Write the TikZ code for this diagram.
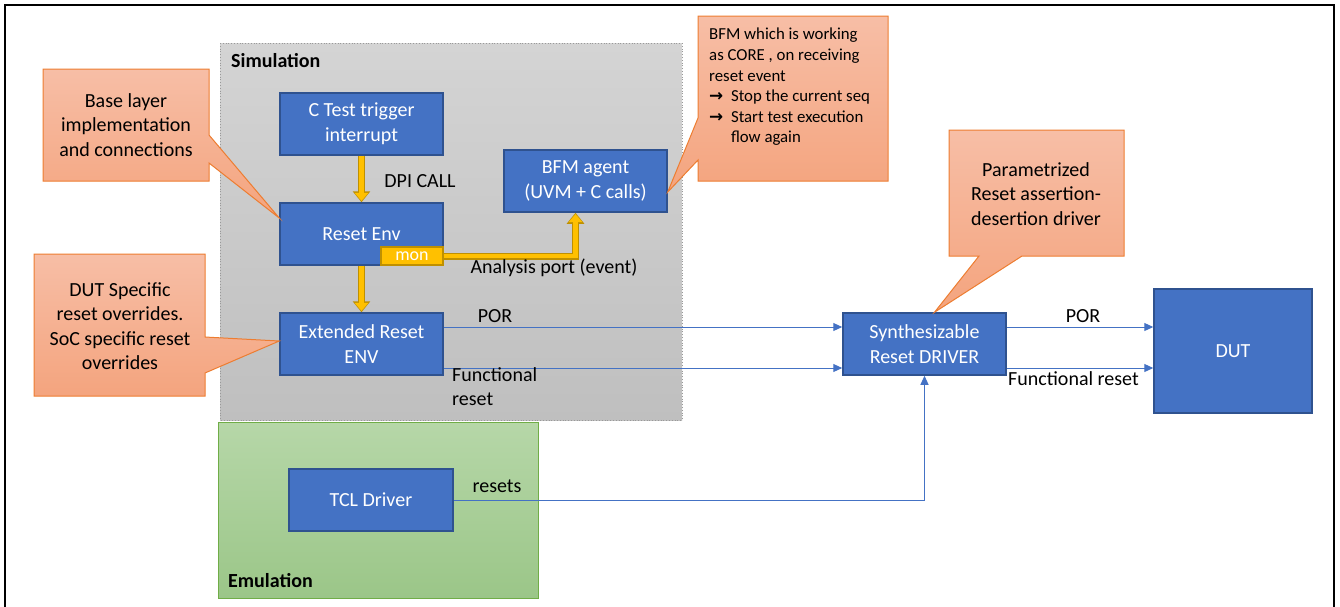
\documentclass[tikz,border=0pt]{standalone}
\usepackage{fontspec}
\setmainfont{Carlito}
\newfontfamily\dejavu{DejaVu Sans}
\usetikzlibrary{arrows.meta,calc}
\definecolor{blu}{HTML}{4472C4}
\definecolor{bluD}{HTML}{2F528F}
\definecolor{yel}{HTML}{FFC000}
\definecolor{yelD}{HTML}{BF9000}
\definecolor{salT}{HTML}{F7BEA6}
\definecolor{salB}{HTML}{F4A47E}
\definecolor{salD}{HTML}{ED7D31}
\definecolor{simT}{HTML}{D4D4D4}
\definecolor{simB}{HTML}{BFBFBF}
\definecolor{emuT}{HTML}{B6D7A8}
\definecolor{emuB}{HTML}{9BC688}
\definecolor{emuD}{HTML}{70AD47}
\begin{document}
\begin{tikzpicture}[x=1pt,y=-1pt,
  blk/.style={draw=bluD, line width=1.5pt, fill=blu, text=white, align=center,
    font=\fontsize{20}{25}\selectfont, minimum width=163pt, minimum height=62pt, inner sep=0pt},
  lbl/.style={font=\fontsize{20}{24}\selectfont, text=black, inner sep=0pt},
  callout/.style={draw=salD, line width=1pt, top color=salT, bottom color=salB},
  ctext/.style={font=\fontsize{20}{24.5}\selectfont, align=center, inner sep=0pt},
  youter/.style={draw=yelD, line width=7pt, -{Triangle[width=17pt,length=11pt]}},
  yarrow/.style={draw=yel, line width=4.5pt, -{Triangle[width=13pt,length=8pt]}, shorten >=1.3pt},
  barrow/.style={draw=blu, line width=1pt, -{Triangle[width=8pt,length=9pt]}},
  title/.style={font=\fontsize{20}{22}\selectfont\bfseries, anchor=west, inner sep=0pt}
]
\useasboundingbox (0,0) rectangle (1340,606);
% outer frame
\draw[line width=1.5pt] (5,612) -- (5,5) -- (1334,5) -- (1334,612);
% regions
\path[draw=gray!80, dotted, line width=0.8pt, top color=simT, bottom color=simB] (220,43) rectangle (682,420);
\node[title] (simt) at (231,61) {Simulation};
\path[draw=emuD, line width=0.8pt, top color=emuT, bottom color=emuB] (218,422) rectangle (538,598);
\node[title] (emut) at (228,581) {Emulation};

% blocks
\node[blk] (ctest) at (361.5,124) {C Test trigger\\interrupt};
\node[blk] (renv) at (361.5,234) {Reset Env};
\node[blk] (ext) at (361.5,344) {Extended Reset\\ENV};
\node[blk] (bfm) at (585.5,181) {BFM agent\\(UVM + C calls)};
\node[blk] (syn) at (924.5,344) {Synthesizable\\Reset DRIVER};
\node[blk, minimum width=158pt, minimum height=124pt] (dut) at (1233,351) {DUT};
\node[blk, minimum width=164pt] (tcl) at (371,500) {TCL Driver};
\node[draw=yelD, fill=yel, line width=1.5pt, text=white, minimum width=62pt, minimum height=18pt,
  inner sep=0pt, font=\fontsize{18}{18}\selectfont, anchor=south east] (mon) at (renv.south east) {mon};

% callouts
\path[callout] (43,69) -- (209,69) -- (209,135) -- ([yshift=16pt]renv.west) -- (209,163) -- (209,181) -- (43,181) -- cycle;
\node[ctext] (c1) at (126,125) {Base layer\\implementation\\and connections};
\path[callout] (34,254) -- (205,254) -- (205,337) -- ([yshift=3pt]ext.west) -- (205,373) -- (205,396) -- (34,396) -- cycle;
\node[ctext] (c2) at (120,326) {DUT Specific\\reset overrides.\\SoC specific reset\\overrides};
\path[callout] (698,16) -- (888,16) -- (888,181) -- (698,181) -- (698,160) -- ([yshift=-11pt]bfm.east) -- (698,118) -- cycle;
\node[font=\fontsize{16.8}{20.6}\selectfont, align=left, anchor=north west, inner sep=0pt] (c3) at (709,28)
  {BFM which is working\\as CORE , on receiving\\reset event\\
   \makebox[1.3em][l]{\dejavu\bfseries →}Stop the current seq\\
   \makebox[1.3em][l]{\dejavu\bfseries →}Start test execution\\
   \hspace*{1.3em}flow again};
\path[callout] (949,130) -- (1124,130) -- (1124,256) -- (1022,256) -- ([xshift=10pt]syn.north) -- (979,256) -- (949,256) -- cycle;
\node[ctext] (c4) at (1036,194) {Parametrized\\Reset assertion-\\desertion driver};

% yellow arrows (outline, then fill)
\draw[youter] (ctest.south) -- (renv.north);
\draw[youter] (renv.south) -- (ext.north);
\draw[youter] (mon.east) -| ([xshift=-10pt]bfm.south);
\draw[yarrow] (ctest.south) -- (renv.north);
\draw[yarrow] (renv.south) -- (ext.north);
\draw[yarrow] (mon.east) -| ([xshift=-10pt]bfm.south);

% blue connectors
\draw[barrow] ([yshift=17pt]ext.east) -- ([yshift=17pt]syn.west);
\draw[barrow] ([yshift=-24pt]ext.east) -- ([yshift=-24pt]syn.west);
\draw[barrow] ([yshift=17pt]syn.east) -- ([yshift=17pt]syn.east -| dut.west);
\draw[barrow] ([yshift=-24pt]syn.east) -- ([yshift=-24pt]syn.east -| dut.west);
\draw[barrow] (tcl.east) -| (syn.south);

% labels
\node[lbl] (dpi) at (420,181) {DPI CALL};
\node[lbl] (ap) at (554,268) {Analysis port (event)};
\node[lbl] (por1) at (495,316) {POR};
\node[lbl, align=left, anchor=north west] (fr1) at (452,367) {Functional\\reset};
\node[lbl] (por2) at (1083,316) {POR};
\node[lbl, anchor=west] (fr2) at (1008,379) {Functional reset};
\node[lbl] (rs) at (497,486) {resets};
\end{tikzpicture}
\end{document}
